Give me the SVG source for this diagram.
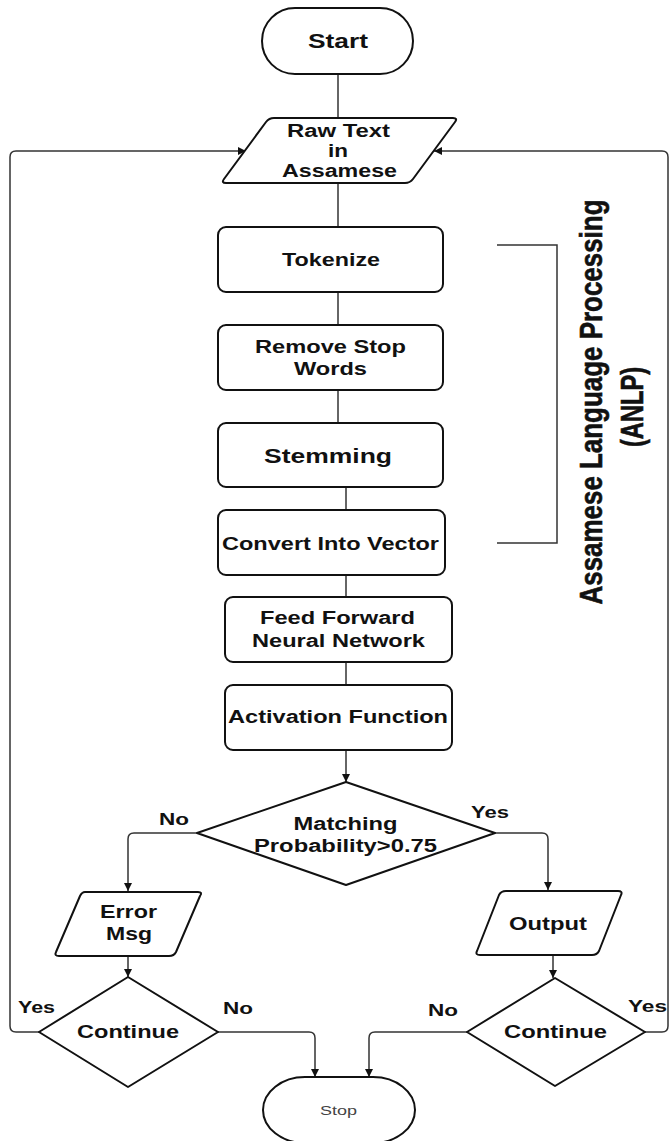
<svg xmlns="http://www.w3.org/2000/svg" width="670" height="1141" viewBox="0 0 670 1141">
<defs>
<marker id="arr" viewBox="0 0 10 10" refX="10" refY="5" markerWidth="8" markerHeight="8" markerUnits="userSpaceOnUse" orient="auto">
<path d="M0,0 L10,5 L0,10 Z" fill="#111"/>
</marker>
<style>
.n{fill:#fff;stroke:#111;stroke-width:2;stroke-linejoin:round}
.c{fill:none;stroke:#333;stroke-width:1.5}
.t{font-family:"Liberation Sans",Arial,sans-serif;font-weight:bold;font-size:18px;fill:#111;text-anchor:middle}
.big{font-size:20px}
.lbl{font-family:"Liberation Sans",Arial,sans-serif;font-weight:bold;font-size:17px;fill:#111;text-anchor:middle}
.stop{font-family:"Liberation Sans",Arial,sans-serif;font-size:13px;fill:#444;text-anchor:middle}
.anlp{font-family:"Liberation Sans Narrow","Liberation Sans",Arial,sans-serif;font-weight:bold;font-size:31px;fill:#111;stroke:#111;stroke-width:0.6;text-anchor:middle}
</style>
</defs>
<rect width="670" height="1141" fill="#fff"/>

<g id="connectors">
<line class="c" x1="338" y1="74" x2="338" y2="118"/>
<line class="c" x1="338" y1="183" x2="338" y2="227"/>
<line class="c" x1="338" y1="292" x2="338" y2="325"/>
<line class="c" x1="338" y1="390" x2="338" y2="423"/>
<line class="c" x1="346" y1="487" x2="346" y2="510"/>
<line class="c" x1="346" y1="575" x2="346" y2="597"/>
<line class="c" x1="346" y1="662" x2="346" y2="685"/>
<line class="c" x1="346" y1="750" x2="346" y2="782" marker-end="url(#arr)"/>
<path class="c" d="M197,833 H134 Q128,833 128,839 V891" marker-end="url(#arr)"/>
<path class="c" d="M495,833 H542 Q548,833 548,839 V890" marker-end="url(#arr)"/>
<line class="c" x1="128" y1="956" x2="128" y2="977" marker-end="url(#arr)"/>
<line class="c" x1="553" y1="955" x2="553" y2="978" marker-end="url(#arr)"/>
<path class="c" d="M39,1032 H16 Q10,1032 10,1026 V157 Q10,151 16,151 H246" marker-end="url(#arr)"/>
<path class="c" d="M645,1032 H662 Q668,1032 668,1026 V157 Q668,151 662,151 H434" marker-end="url(#arr)"/>
<path class="c" d="M218,1032 H309 Q315,1032 315,1038 V1077" marker-end="url(#arr)"/>
<path class="c" d="M467,1032 H375 Q369,1032 369,1038 V1077" marker-end="url(#arr)"/>
</g>

<g id="bracket">
<polyline class="c" points="497,245 557,245 557,543 497,543" stroke="#444"/>
</g>

<g id="start">
<rect class="n" x="262" y="8" width="151" height="66" rx="33" ry="33"/>
<text class="t big" x="338" y="48" textLength="60" lengthAdjust="spacingAndGlyphs">Start</text>
</g>

<g id="rawtext">
<path class="n" d="M274,118 H453 Q458,118 455,122 L413,179 Q410,183 405,183 H226 Q221,183 224,179 L266,122 Q269,118 274,118 Z"/>
<text class="t" x="338.5" y="137" textLength="103" lengthAdjust="spacingAndGlyphs">Raw Text</text>
<text class="t" x="338" y="157" textLength="20" lengthAdjust="spacingAndGlyphs">in</text>
<text class="t" x="339.5" y="177" textLength="115" lengthAdjust="spacingAndGlyphs">Assamese</text>
</g>

<g id="tokenize">
<rect class="n" x="218" y="227" width="225" height="65" rx="8"/>
<text class="t" x="331" y="266" textLength="98" lengthAdjust="spacingAndGlyphs">Tokenize</text>
</g>

<g id="stopwords">
<rect class="n" x="218" y="325" width="225" height="65" rx="8"/>
<text class="t" x="330.5" y="353" textLength="151" lengthAdjust="spacingAndGlyphs">Remove Stop</text>
<text class="t" x="330.5" y="375" textLength="73" lengthAdjust="spacingAndGlyphs">Words</text>
</g>

<g id="stemming">
<rect class="n" x="218" y="423" width="225" height="64" rx="8"/>
<text class="t big" x="328" y="463" textLength="128" lengthAdjust="spacingAndGlyphs">Stemming</text>
</g>

<g id="vector">
<rect class="n" x="218" y="510" width="227" height="65" rx="8"/>
<text class="t" x="330.5" y="550" textLength="217" lengthAdjust="spacingAndGlyphs">Convert Into Vector</text>
</g>

<g id="ffnn">
<rect class="n" x="225" y="597" width="227" height="65" rx="8"/>
<text class="t" x="337.5" y="624" textLength="155" lengthAdjust="spacingAndGlyphs">Feed Forward</text>
<text class="t" x="338.5" y="647" textLength="173" lengthAdjust="spacingAndGlyphs">Neural Network</text>
</g>

<g id="activation">
<rect class="n" x="225" y="685" width="227" height="65" rx="8"/>
<text class="t" x="338" y="723" textLength="220" lengthAdjust="spacingAndGlyphs">Activation Function</text>
</g>

<g id="matching">
<polygon class="n" points="346,782 495,833 346,885 197,833"/>
<text class="t" x="345.5" y="830" textLength="104" lengthAdjust="spacingAndGlyphs">Matching</text>
<text class="t" x="345.5" y="852" textLength="183" lengthAdjust="spacingAndGlyphs">Probability&gt;0.75</text>
<text class="lbl" x="174" y="825" textLength="30" lengthAdjust="spacingAndGlyphs">No</text>
<text class="lbl" x="490" y="818" textLength="38" lengthAdjust="spacingAndGlyphs">Yes</text>
</g>

<g id="errormsg">
<path class="n" d="M85,892 H198 Q203,892 200,896 L176,952 Q174,956 169,956 H59 Q54,956 56,952 L80,896 Q82,892 85,892 Z"/>
<text class="t" x="128.5" y="918" textLength="57" lengthAdjust="spacingAndGlyphs">Error</text>
<text class="t" x="129" y="940" textLength="46" lengthAdjust="spacingAndGlyphs">Msg</text>
</g>

<g id="output">
<path class="n" d="M506,891 H618 Q623,891 621,895 L599,951 Q597,955 592,955 H480 Q475,955 477,951 L499,895 Q501,891 506,891 Z"/>
<text class="t" x="548" y="930" textLength="78" lengthAdjust="spacingAndGlyphs">Output</text>
</g>

<g id="continue-left">
<polygon class="n" points="128,977 218,1032 128,1087 39,1032"/>
<text class="t" x="128" y="1038" textLength="102" lengthAdjust="spacingAndGlyphs">Continue</text>
<text class="lbl" x="36.5" y="1013" textLength="37" lengthAdjust="spacingAndGlyphs">Yes</text>
<text class="lbl" x="238" y="1014" textLength="30" lengthAdjust="spacingAndGlyphs">No</text>
</g>

<g id="continue-right">
<polygon class="n" points="555,978 645,1032 555,1086 467,1032"/>
<text class="t" x="555.5" y="1038" textLength="103" lengthAdjust="spacingAndGlyphs">Continue</text>
<text class="lbl" x="443" y="1016" textLength="30" lengthAdjust="spacingAndGlyphs">No</text>
<text class="lbl" x="647.5" y="1012" textLength="39" lengthAdjust="spacingAndGlyphs">Yes</text>
</g>

<g id="stop">
<rect class="n" x="263" y="1077" width="152" height="66" rx="42" ry="33"/>
<text class="stop" x="338.5" y="1115" textLength="37" lengthAdjust="spacingAndGlyphs">Stop</text>
</g>

<g id="anlp-label">
<text class="anlp" transform="translate(602,402) rotate(-90)" x="0" y="0" textLength="405" lengthAdjust="spacingAndGlyphs">Assamese Language Processing</text>
<text class="anlp" transform="translate(643,407) rotate(-90)" x="0" y="0" textLength="80" lengthAdjust="spacingAndGlyphs">(ANLP)</text>
</g>
</svg>
